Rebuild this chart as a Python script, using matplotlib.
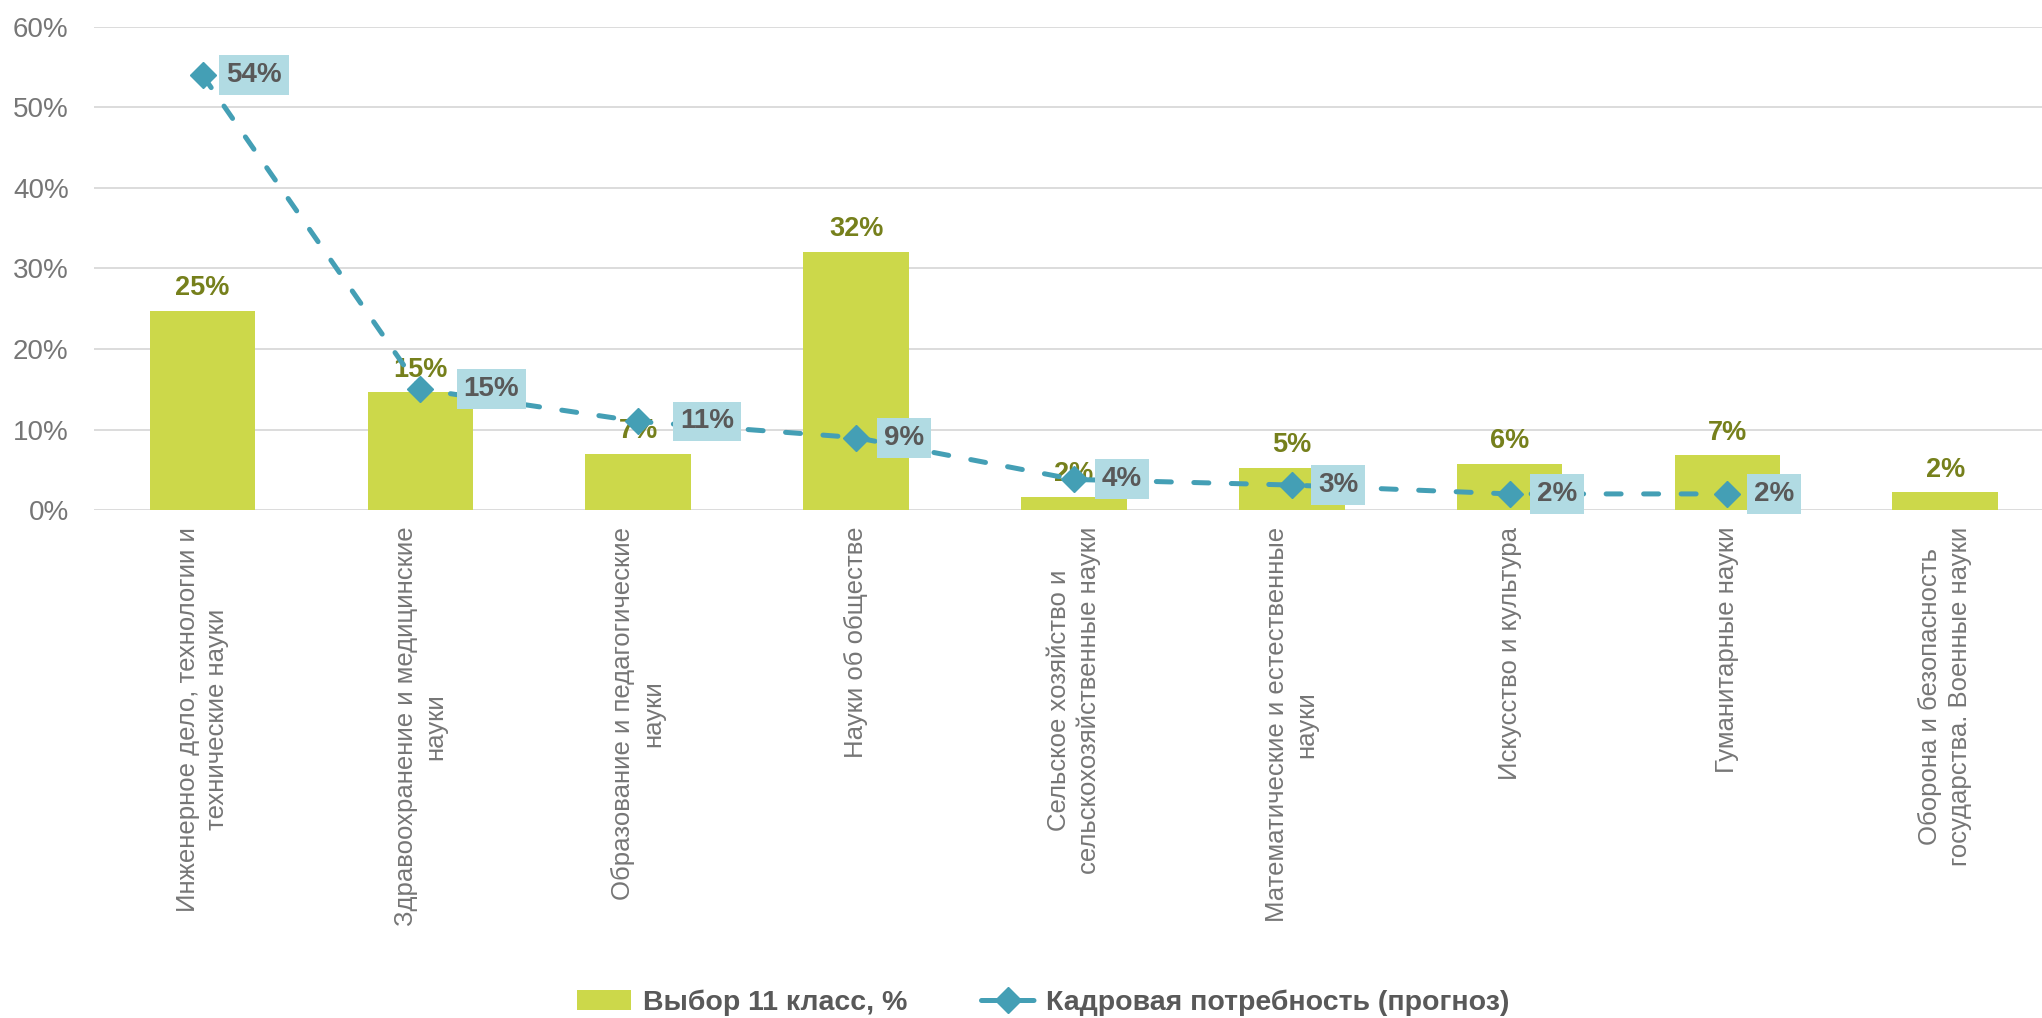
import matplotlib
matplotlib.use('Agg')
from matplotlib import pyplot as plt, font_manager
import numpy as np

categories = [
    'Инженерное дело, технологии и\nтехнические науки',
    'Здравоохранение и медицинские\nнауки',
    'Образование и педагогические\nнауки',
    'Науки об обществе',
    'Сельское хозяйство и\nсельскохозяйственные науки',
    'Математические и естественные\nнауки',
    'Искусство и культура',
    'Гуманитарные науки',
    'Оборона и безопасность\nгосударства. Военные науки',
]
# Выбор 11 класс, %
choice = [24.7, 14.6, 7.0, 32.1, 1.6, 5.2, 5.7, 6.8, 2.2]
choice_labels = ['25%', '15%', '7%', '32%', '2%', '5%', '6%', '7%', '2%']
# Кадровая потребность (прогноз) - нет значения для последней категории
demand = [54, 15, 11, 9, 3.8, 3.1, 2.0, 2.0]
demand_labels = ['54%', '15%', '11%', '9%', '4%', '3%', '2%', '2%']
yticks = [0, 10, 20, 30, 40, 50, 60]

# сдвиг подписей линии вправо, pt
label_dx = [17, 31, 30, 20, 20, 19, 20, 19]

BAR_COLOR = '#CCD84A'
BAR_TEXT = '#76801C'
LINE_COLOR = '#449FB5'
BOX_COLOR = '#B1DBE3'
DARK_TEXT = '#595959'
AXIS_TEXT = '#767676'
GRID = '#D9D9D9'

names = {f.name for f in font_manager.fontManager.ttflist}
base_font = 'Liberation Sans' if 'Liberation Sans' in names else 'DejaVu Sans'
narrow_font = ('Liberation Sans Narrow' if 'Liberation Sans Narrow' in names
               else base_font)
plt.rcParams['font.family'] = [base_font, 'DejaVu Sans']

fig = plt.figure(figsize=(20.42, 10.18), dpi=100)
ax = fig.add_axes([0.0459, 0.499, 0.96, 0.4745])

x = np.arange(len(categories))
bars = ax.bar(x, choice, width=0.485, color=BAR_COLOR, zorder=2,
              label='Выбор 11 класс, %')
for xi, v, lab in zip(x, choice, choice_labels):
    ax.annotate(lab, (xi, v), xytext=(0, 7), textcoords='offset points',
                ha='center', va='bottom', fontsize=19.5, fontweight='bold',
                color=BAR_TEXT, zorder=3)

xl = x[:len(demand)]
line, = ax.plot(xl, demand, color=LINE_COLOR, lw=3.6, ls=(0, (3.0, 4.5)),
                dash_capstyle='round', marker='D', ms=13, mec=LINE_COLOR,
                mfc=LINE_COLOR, zorder=4,
                label='Кадровая потребность (прогноз)')
for xi, v, lab, dx in zip(xl, demand, demand_labels, label_dx):
    ax.annotate(lab, (xi, v), xytext=(dx, 0), textcoords='offset points',
                ha='left', va='center', fontsize=20, fontweight='bold',
                color=DARK_TEXT, zorder=5,
                bbox=dict(boxstyle='square,pad=0.25', fc=BOX_COLOR,
                          ec='none'))

ax.set_xlim(-0.5, len(categories) - 0.5)
ax.set_ylim(0, 60)
ax.set_yticks(yticks)
ax.set_yticklabels([f'{t}%' for t in yticks])
ax.set_xticks(x)
ax.set_xticklabels(categories, rotation=90, ha='center', va='top',
                   multialignment='center', linespacing=1.3)
ax.tick_params(axis='y', length=0, pad=18, labelsize=20,
               labelcolor=AXIS_TEXT)
ax.tick_params(axis='x', length=0, pad=12, labelsize=18.5,
               labelcolor=AXIS_TEXT)
ax.grid(axis='y', color=GRID, lw=1.3)
ax.set_axisbelow(True)
for s in ax.spines.values():
    s.set_visible(False)

fig.legend(handles=[bars, line], loc='center',
           bbox_to_anchor=(0.511, 0.0147), ncol=2,
           frameon=False, handlelength=1.9, handletextpad=0.4,
           columnspacing=2.6, numpoints=1,
           prop=dict(family=narrow_font, weight='bold', size=20.5),
           labelcolor=DARK_TEXT)

fig.savefig('out.png', dpi=100)
